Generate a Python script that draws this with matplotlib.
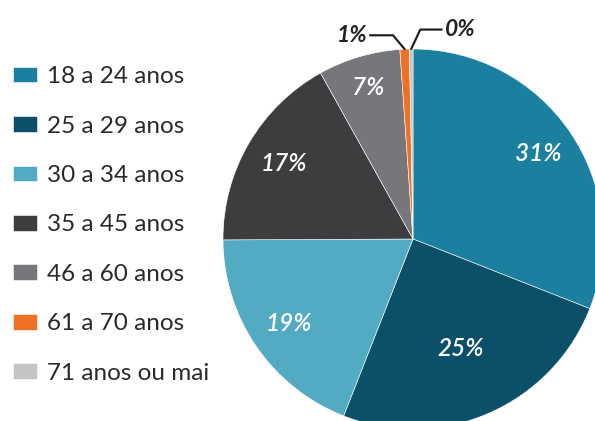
import numpy as np
import matplotlib
matplotlib.use('Agg')
import matplotlib.pyplot as plt

plt.rcParams['font.family'] = ['Lato', 'DejaVu Sans']

# faixas etarias e participacao (%)
faixas = ['18 a 24 anos', '25 a 29 anos', '30 a 34 anos', '35 a 45 anos',
          '46 a 60 anos', '61 a 70 anos', '71 anos ou mai']
valores = [31, 25, 19, 17, 7, 0.8, 0.3]
rotulos = ['31%', '25%', '19%', '17%', '7%', '1%', '0%']
cores = ['#1b7fa0', '#0b5068', '#53aac3', '#3d3c3f', '#77767b', '#f07124', '#c4c4c4']


def main():
    fig = plt.figure(figsize=(5.95, 4.21), dpi=100)
    # pie centrada em ~(413, 239) px, raio ~190 px
    ax = fig.add_axes([(413 - 190) / 595, (421 - 239 - 190) / 421, 380 / 595, 380 / 421])

    wedges, _ = ax.pie(valores, colors=cores, startangle=90, counterclock=False,
                       wedgeprops=dict(linewidth=0.4, edgecolor='white'))
    ax.set_xlim(-1, 1)
    ax.set_ylim(-1, 1)
    ax.set_aspect('equal')

    # rotulos internos
    dist = [0.80, 0.63, 0.79, 0.79, 0.83]
    for w, txt, d in zip(wedges[:5], rotulos[:5], dist):
        ang = np.deg2rad((w.theta1 + w.theta2) / 2)
        ax.text(d * np.cos(ang), d * np.sin(ang), txt, color='white',
                fontsize=17.5, fontweight='semibold', fontstyle='italic',
                ha='center', va='center')

    # rotulos externos com linhas
    offsets = [(-38, 10), (35, 14)]
    angs_b = [130, 65]
    for w, txt, off, ab in zip(wedges[5:], rotulos[5:], offsets, angs_b):
        ang = np.deg2rad((w.theta1 + w.theta2) / 2)
        ax.annotate(txt, xy=(np.cos(ang), np.sin(ang)), xytext=off,
                    textcoords='offset points', ha='center', va='center',
                    fontsize=16.5, fontweight='bold', fontstyle='italic',
                    color='#222222', annotation_clip=False,
                    arrowprops=dict(arrowstyle='-', color='#222222', lw=1.6,
                                    shrinkA=0, shrinkB=0,
                                    connectionstyle='angle,angleA=0,angleB=%d' % ab))

    fig.legend(wedges, faixas, loc='upper left', bbox_to_anchor=(0.022, 0.843),
               frameon=False, fontsize=17.5, handlelength=0.99, handleheight=0.62,
               handletextpad=0.41, labelspacing=1.17, labelcolor='#2a2a2a',
               borderaxespad=0, borderpad=0)

    fig.savefig('out.png', dpi=100, facecolor='white')


if __name__ == '__main__':
    main()
